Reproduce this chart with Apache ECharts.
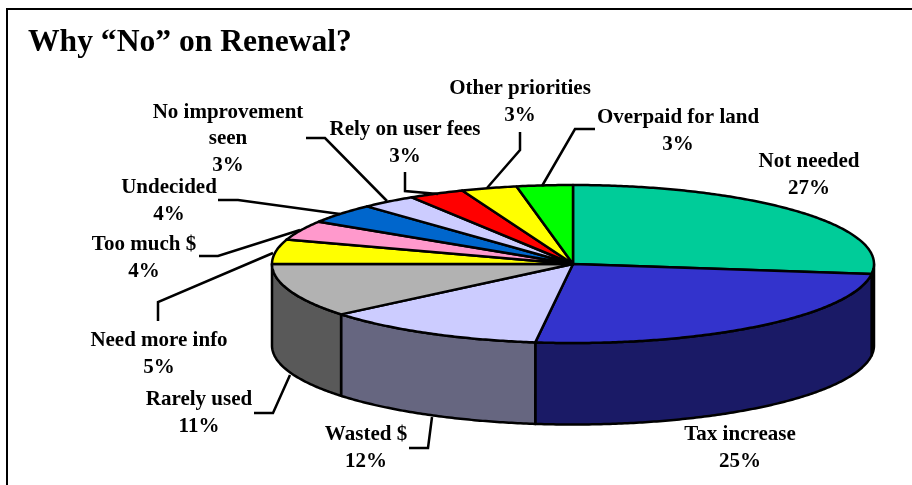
<!DOCTYPE html>
<html><head><meta charset="utf-8">
<style>html,body{margin:0;padding:0;background:#fff}#c{width:912px;height:485px}</style>
<script src="https://cdn.jsdelivr.net/npm/echarts@6/dist/echarts.min.js"></script>
</head><body><div id="c"></div>
<script>
const titleText = 'Why \u201cNo\u201d on Renewal?';
const categories = ['Not needed','Tax increase','Wasted $','Rarely used','Need more info','Too much $','Undecided','No improvement\nseen','Rely on user fees','Other priorities','Overpaid for land'];
const values = [27,25,12,11,5,4,4,3,3,3,3];
const topColors = ['#00CC99','#3333CC','#CCCCFF','#B2B2B2','#FFFF00','#FF99CC','#0066CC','#CCCCFF','#FF0000','#FFFF00','#00FF00'];
const sideColors = ['#006B50','#1A1A66','#666680','#595959','#808000','#804D66','#003366','#666680','#800000','#808000','#008000'];

// layout of the tilted pie
const cx = 573, cy = 264, rx = 301, ry = 79, depth = 81.5;
const labelCenters = [[809,175],[740,448],[366,448],[199,413],[159,354],[144,258],[169,201],[228,139],[405,143],[520,102],[678,131]];
const leaders = [null,null,
  [[409,448],[428,448],[432,417]],
  [[254,413],[273,413],[290,375]],
  [[158,321],[158,302],[273,253]],
  [[199,256],[218,256],[300,230]],
  [[218,200],[238,200],[340,214]],
  [[306,138],[325,138],[387,201]],
  [[405,172],[405,191],[438,194]],
  [[520,132],[520,150],[487,188]],
  [[595,129],[575,129],[542,186]]];

const total = values.reduce((a,b)=>a+b,0);
const cum = [0];
values.forEach((v,i)=>cum.push(cum[i]+v));
const angleOf = v => echarts.number.linearMap(v,[0,total],[0,Math.PI*2]);
const pt = (a,dy) => [cx+rx*Math.sin(a), cy-ry*Math.cos(a)+(dy||0)];
const arc = (a0,a1,dy) => {
  const n = Math.max(2,Math.ceil((a1-a0)/0.01)), out=[];
  for(let k=0;k<=n;k++) out.push(pt(a0+(a1-a0)*k/n,dy));
  return out;
};
const stroke = {stroke:'#000',lineWidth:2.5,lineJoin:'round'};
const seriesData = values.map((v,i)=>[i,v]);

const option = {
  animation:false,
  backgroundColor:'#fff',
  title:{text:titleText,left:28,top:27,padding:0,
    textStyle:{fontFamily:'"Liberation Serif"',fontWeight:'bold',fontSize:31.6,color:'#000'}},
  graphic:[
    {type:'polyline',silent:true,shape:{points:[[7,485],[7,9],[912,9]]},style:{fill:null,stroke:'#000',lineWidth:2}}
  ],
  series:[
    {type:'custom',coordinateSystem:'none',silent:true,data:seriesData,z:2,
     renderItem:(p,api)=>{
       const i=p.dataIndex;
       const a0=Math.max(angleOf(cum[i]),Math.PI/2), a1=Math.min(angleOf(cum[i+1]),Math.PI*1.5);
       if(a1<=a0) return {type:'group',children:[]};
       const pts=arc(a0,a1,0).concat(arc(a0,a1,depth).reverse());
       return {type:'polygon',shape:{points:pts},style:Object.assign({fill:sideColors[i]},stroke)};
     }},
    {type:'custom',coordinateSystem:'none',silent:true,data:seriesData,z:3,
     renderItem:(p,api)=>{
       const i=p.dataIndex;
       const pts=[[cx,cy]].concat(arc(angleOf(cum[i]),angleOf(cum[i+1]),0));
       return {type:'polygon',shape:{points:pts},style:Object.assign({fill:topColors[i]},stroke)};
     }},
    {type:'custom',coordinateSystem:'none',silent:true,data:seriesData,z:4,
     renderItem:(p,api)=>{
       const i=p.dataIndex, kids=[];
       if(leaders[i]) kids.push({type:'polyline',shape:{points:leaders[i]},style:{fill:null,stroke:'#000',lineWidth:2.5,lineJoin:'miter'}});
       kids.push({type:'text',style:{x:labelCenters[i][0],y:labelCenters[i][1],
         text:categories[i]+'\n'+values[i]+'%',
         align:'center',verticalAlign:'middle',lineHeight:26.5,
         font:'bold 21px "Liberation Serif"',fill:'#000'}});
       return {type:'group',children:kids};
     }}
  ]
};
echarts.init(document.getElementById('c'),null,{renderer:'canvas'}).setOption(option);
</script></body></html>
